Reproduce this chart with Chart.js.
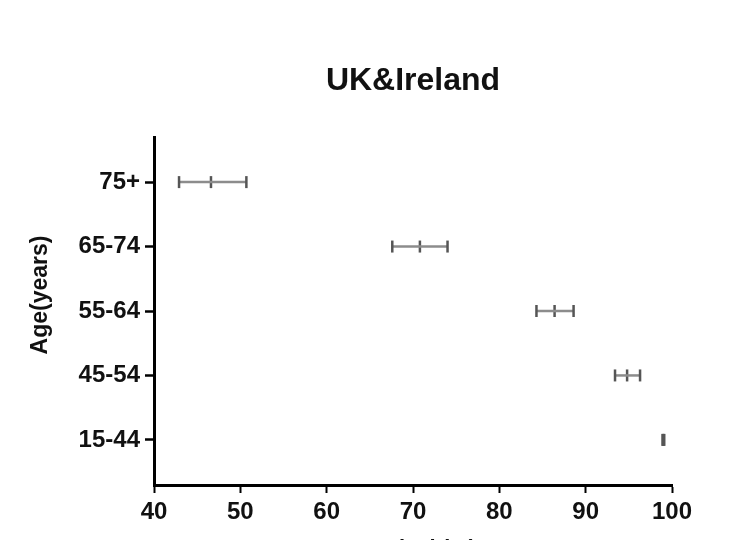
<!DOCTYPE html>
<html>
<head>
<meta charset="utf-8">
<script src="https://cdn.jsdelivr.net/npm/chart.js@4.4.1/dist/chart.umd.min.js"></script>
<style>
    body { margin: 0; overflow: hidden; background: #fff; }
</style>
</head>
<body>
<canvas id="chart" width="733" height="570"></canvas>
<script>
// age groups from bottom to top
const ageGroups = ['15-44', '45-54', '55-64', '65-74', '75+'];
const meanValues = [99.0, 94.8, 86.4, 70.8, 46.6];
const lowerValues = [98.9, 93.4, 84.3, 67.6, 42.9];
const upperValues = [99.1, 96.3, 88.6, 74.0, 50.7];
const xTicks = [40, 50, 60, 70, 80, 90, 100];

const fontFamily = '"Liberation Sans", Arial, sans-serif';

function buildDatasets() {
    const datasets = [];

    // range line with caps for each age group
    for (let i = 0; i < ageGroups.length; i++) {
        datasets.push({
            label: ageGroups[i],
            data: [
                { x: lowerValues[i], y: i },
                { x: upperValues[i], y: i }
            ],
            showLine: true,
            borderColor: '#8c8c8c',
            borderWidth: 2.5,
            pointStyle: 'line',
            rotation: 90,
            pointRadius: 6,
            pointBorderColor: '#555',
            pointBorderWidth: 2.5
        });
    }

    // centre marks
    datasets.push({
        label: 'mean',
        data: meanValues.map((v, i) => ({ x: v, y: i })),
        showLine: false,
        pointStyle: 'line',
        rotation: 90,
        pointRadius: 6,
        pointBorderColor: '#555',
        pointBorderWidth: 2.5
    });

    return datasets;
}

const ctx = document.getElementById('chart').getContext('2d');

new Chart(ctx, {
    type: 'scatter',
    data: { datasets: buildDatasets() },
    options: {
        responsive: false,
        animation: false,
        layout: { padding: { left: 0, right: 61, top: 0, bottom: 0 } },
        plugins: {
            legend: { display: false },
            tooltip: { enabled: false }
        },
        scales: {
            x: {
                type: 'linear',
                position: 'bottom',
                min: 40,
                max: 100,
                afterBuildTicks: scale => { scale.ticks = xTicks.map(v => ({ value: v })); },
                afterFit: scale => { scale.height = 85; },
                ticks: {
                    color: '#111',
                    padding: 5,
                    font: { family: fontFamily, size: 24, weight: 'bold' }
                },
                grid: {
                    drawOnChartArea: false,
                    drawTicks: true,
                    tickLength: 8,
                    tickColor: '#000',
                    tickWidth: 2
                },
                border: { color: '#000', width: 3 },
                title: {
                    display: true,
                    text: 'Survival (%)',
                    color: '#111',
                    padding: { top: 0, bottom: 8 },
                    font: { family: fontFamily, size: 22, weight: 'bold' }
                }
            },
            x2: {
                type: 'linear',
                position: 'top',
                min: 40,
                max: 100,
                afterFit: scale => { scale.height = 137; },
                ticks: { display: false },
                grid: { display: false },
                border: { display: false },
                title: {
                    display: true,
                    text: 'UK&Ireland',
                    color: '#111',
                    padding: { top: 62, bottom: 0 },
                    font: { family: fontFamily, size: 32, weight: 'bold' }
                }
            },
            y: {
                type: 'linear',
                min: -0.7,
                max: 4.7,
                afterBuildTicks: scale => { scale.ticks = ageGroups.map((_, i) => ({ value: i })); },
                afterFit: scale => { scale.width = 154; },
                ticks: {
                    color: '#111',
                    padding: 5,
                    font: { family: fontFamily, size: 24, weight: 'bold' },
                    callback: value => ageGroups[Math.round(value)]
                },
                grid: {
                    drawOnChartArea: false,
                    drawTicks: true,
                    tickLength: 9,
                    tickColor: '#000',
                    tickWidth: 2.5
                },
                border: { color: '#000', width: 3 },
                title: {
                    display: true,
                    text: '     Age(years)',
                    color: '#111',
                    padding: { top: 27, bottom: 0 },
                    font: { family: fontFamily, size: 23, weight: 'bold' }
                }
            }
        }
    }
});
</script>
</body>
</html>
